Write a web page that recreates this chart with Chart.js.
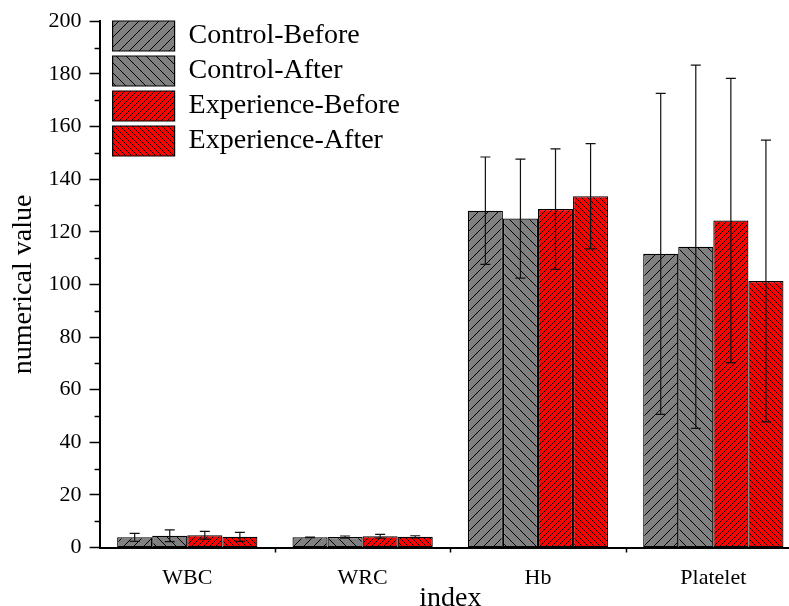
<html>
  <head>
    <script src="https://cdn.jsdelivr.net/npm/chart.js"></script>
    <style>
      body { margin: 0; overflow: hidden; background: #fff; }
      #chart_div { width: 805px; height: 613px; }
    </style>
  </head>
  <body>
    <div id="chart_div"><canvas id="barChart"></canvas></div>
    <script type="text/javascript">
      // values
      var categories = ['WBC', 'WRC', 'Hb', 'Platelet'];
      var seriesNames = ['Control-Before', 'Control-After', 'Experience-Before', 'Experience-After'];
      var controlBefore = [3.9, 3.9, 128.0, 111.6];
      var controlAfter = [4.5, 4.0, 125.0, 114.3];
      var experienceBefore = [4.7, 4.3, 128.6, 124.3];
      var experienceAfter = [4.1, 4.1, 133.5, 101.3];
      var controlBeforeErr = [1.5, 0.1, 20.4, 61.0];
      var controlAfterErr = [2.2, 0.4, 22.6, 69.0];
      var experienceBeforeErr = [1.5, 0.7, 22.9, 54.0];
      var experienceAfterErr = [1.7, 0.4, 20.0, 53.5];
      var yTicks = [0, 20, 40, 60, 80, 100, 120, 140, 160, 180, 200];
      var yMinorTicks = [10, 30, 50, 70, 90, 110, 130, 150, 170, 190];

      var FONT = "'Liberation Serif', 'Times New Roman', serif";

      function hatch(bg, gap, dir) {
        var c = document.createElement('canvas');
        c.width = gap; c.height = gap;
        var g = c.getContext('2d');
        g.fillStyle = bg;
        g.fillRect(0, 0, gap, gap);
        g.strokeStyle = '#000';
        g.lineWidth = 1;
        g.beginPath();
        if (dir > 0) {
          g.moveTo(-1, gap + 1); g.lineTo(gap + 1, -1);
          g.moveTo(-1, 1); g.lineTo(1, -1);
          g.moveTo(gap - 1, gap + 1); g.lineTo(gap + 1, gap - 1);
        } else {
          g.moveTo(-1, -1); g.lineTo(gap + 1, gap + 1);
          g.moveTo(gap - 1, -1); g.lineTo(gap + 1, 1);
          g.moveTo(-1, gap - 1); g.lineTo(1, gap + 1);
        }
        g.stroke();
        return g.createPattern(c, 'repeat');
      }

      var values = [controlBefore, controlAfter, experienceBefore, experienceAfter];
      var errors = [controlBeforeErr, controlAfterErr, experienceBeforeErr, experienceAfterErr];
      var fills = [hatch('#808080', 10, 1), hatch('#808080', 10, -1), hatch('#ff0000', 6, 1), hatch('#ff0000', 6, -1)];

      var datasets = seriesNames.map(function (name, i) {
        return {
          label: name,
          data: values[i],
          errors: errors[i],
          backgroundColor: fills[i],
          borderColor: '#000',
          borderWidth: 1.2,
          borderSkipped: false,
          categoryPercentage: 0.8,
          barPercentage: 1.0
        };
      });

      // error bars on top of the bars
      var errorBars = {
        id: 'errorBars',
        afterDatasetsDraw: function (chart) {
          var ctx = chart.ctx, y = chart.scales.y;
          ctx.save();
          ctx.strokeStyle = '#111';
          ctx.lineWidth = 1.2;
          chart.data.datasets.forEach(function (ds, di) {
            chart.getDatasetMeta(di).data.forEach(function (bar, i) {
              var v = ds.data[i], e = ds.errors[i];
              var top = y.getPixelForValue(v + e), bot = y.getPixelForValue(v - e);
              ctx.beginPath();
              ctx.moveTo(bar.x, top); ctx.lineTo(bar.x, bot);
              ctx.moveTo(bar.x - 5, top); ctx.lineTo(bar.x + 5, top);
              ctx.moveTo(bar.x - 5, bot); ctx.lineTo(bar.x + 5, bot);
              ctx.stroke();
            });
          });
          ctx.restore();
        }
      };

      // short minor ticks on both axes
      var minorTicks = {
        id: 'minorTicks',
        afterDraw: function (chart) {
          var ctx = chart.ctx, x = chart.scales.x, y = chart.scales.y;
          ctx.save();
          ctx.strokeStyle = '#000';
          ctx.lineWidth = 1.5;
          ctx.beginPath();
          yMinorTicks.forEach(function (v) {
            var py = Math.round(y.getPixelForValue(v)) + 0.5;
            ctx.moveTo(y.right - 5, py); ctx.lineTo(y.right, py);
          });
          for (var i = 0; i < categories.length - 1; i++) {
            var px = Math.round((x.getPixelForValue(i) + x.getPixelForValue(i + 1)) / 2) + 0.5;
            ctx.moveTo(px, x.top); ctx.lineTo(px, x.top + 5);
          }
          ctx.stroke();
          ctx.restore();
        }
      };

      var moveLegend = {
        id: 'moveLegend',
        afterLayout: function (chart) {
          chart.legend.left += 8;
          chart.legend.top += 16;
        }
      };

      new Chart(document.getElementById('barChart'), {
        type: 'bar',
        data: { labels: categories, datasets: datasets },
        plugins: [errorBars, minorTicks, moveLegend],
        options: {
          responsive: true,
          maintainAspectRatio: false,
          animation: false,
          layout: { padding: { left: 7, right: 4, top: 18, bottom: 0 } },
          plugins: {
            tooltip: { enabled: false },
            legend: {
              position: 'chartArea',
              align: 'start',
              labels: {
                boxWidth: 62,
                boxHeight: 30,
                padding: 5,
                color: '#000',
                font: { family: FONT, size: 28 }
              }
            }
          },
          scales: {
            x: {
              offset: true,
              grid: { display: false, drawOnChartArea: false, offset: false, tickLength: 11, tickColor: '#000', tickWidth: 1.5 },
              border: { display: true, color: '#000', width: 2 },
              ticks: { color: '#000', padding: 6, font: { family: FONT, size: 22 } },
              title: { display: true, text: 'index', color: '#000', padding: { top: -12, bottom: 0 }, font: { family: FONT, size: 28, lineHeight: 1 } }
            },
            y: {
              min: 0,
              max: 200,
              afterBuildTicks: function (s) { s.ticks = yTicks.map(function (v) { return { value: v }; }); },
              grid: { drawOnChartArea: false, tickLength: 10, tickColor: '#000', tickWidth: 1.5 },
              border: { display: true, color: '#000', width: 2 },
              ticks: { color: '#000', padding: 8, font: { family: FONT, size: 22 } },
              title: { display: true, text: 'numerical value', color: '#000', padding: { top: 0, bottom: 0 }, font: { family: FONT, size: 28 } }
            }
          }
        }
      });
    </script>
  </body>
</html>
